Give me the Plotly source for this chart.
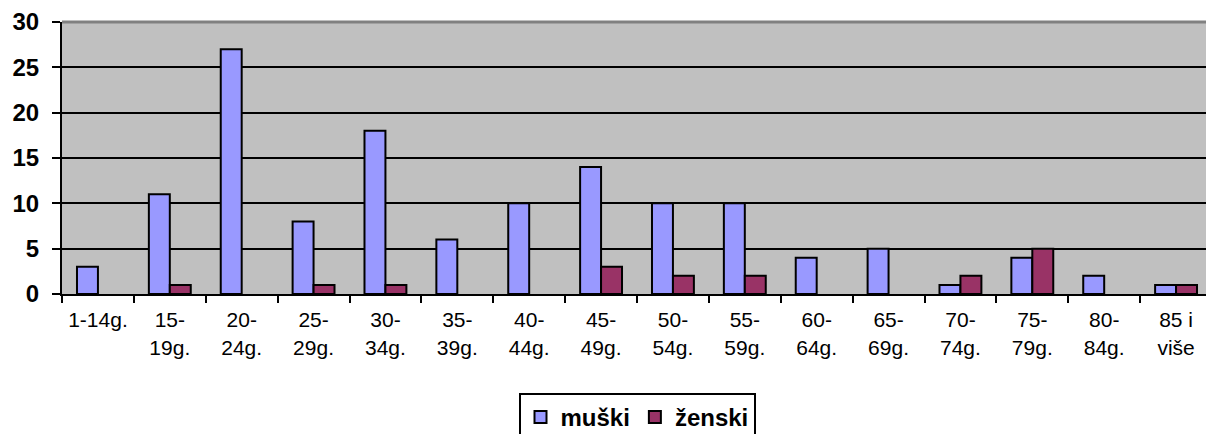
import plotly.graph_objects as go

categories = ["1-14g.", "15-<br>19g.", "20-<br>24g.", "25-<br>29g.", "30-<br>34g.", "35-<br>39g.",
              "40-<br>44g.", "45-<br>49g.", "50-<br>54g.", "55-<br>59g.", "60-<br>64g.", "65-<br>69g.",
              "70-<br>74g.", "75-<br>79g.", "80-<br>84g.", "85 i<br>više"]
muski = [3, 11, 27, 8, 18, 6, 10, 14, 10, 10, 4, 5, 1, 4, 2, 1]
zenski = [0, 1, 0, 1, 1, 0, 0, 3, 2, 2, 0, 0, 2, 5, 0, 1]
y_ticks = [0, 5, 10, 15, 20, 25, 30]

FONT = "Liberation Sans, Arial, sans-serif"

def shown(vals):
    return [v if v else None for v in vals]

fig = go.Figure()
fig.add_trace(go.Bar(x=categories, y=shown(muski), name="muški",
                     marker=dict(color="#9999FF", line=dict(color="black", width=2))))
fig.add_trace(go.Bar(x=categories, y=shown(zenski), name="ženski",
                     marker=dict(color="#993366", line=dict(color="black", width=2))))

fig.update_layout(
    width=1214, height=434,
    margin=dict(l=54, r=10, t=14, b=148, autoexpand=False),
    paper_bgcolor="white", plot_bgcolor="#C0C0C0",
    barmode="group", bargap=0.417, bargroupgap=0,
    font=dict(family=FONT, color="black"),
    legend=dict(orientation="h", x=0.5, xanchor="center", y=-0.364, yanchor="top",
                bordercolor="black", borderwidth=2, bgcolor="white",
                font=dict(size=24, family=FONT, weight="bold"),
                itemwidth=30, tracegroupgap=0),
    xaxis=dict(showline=True, linecolor="black", linewidth=2, ticks="outside",
               tickson="boundaries", ticklen=7, tickwidth=2, tickcolor="black",
               tickfont=dict(size=21, family=FONT), showgrid=False, automargin=False,
               ticklabelstandoff=6),
    yaxis=dict(range=[0, 30], tickvals=y_ticks, showline=True, linecolor="black", linewidth=2,
               ticks="outside", ticklen=8, tickwidth=2, tickcolor="black",
               tickfont=dict(size=24, weight="bold", family=FONT), showgrid=True, gridcolor="black",
               gridwidth=2, zeroline=False, automargin=False, ticklabelstandoff=8),
    shapes=[
        dict(type="line", xref="paper", yref="paper", x0=0, x1=1, y0=1, y1=1,
             line=dict(color="#808080", width=3), layer="above"),
        dict(type="line", xref="paper", yref="paper", x0=1, x1=1, y0=0, y1=1,
             line=dict(color="#808080", width=2), layer="above"),
    ],
)

fig.write_html("out.html")
